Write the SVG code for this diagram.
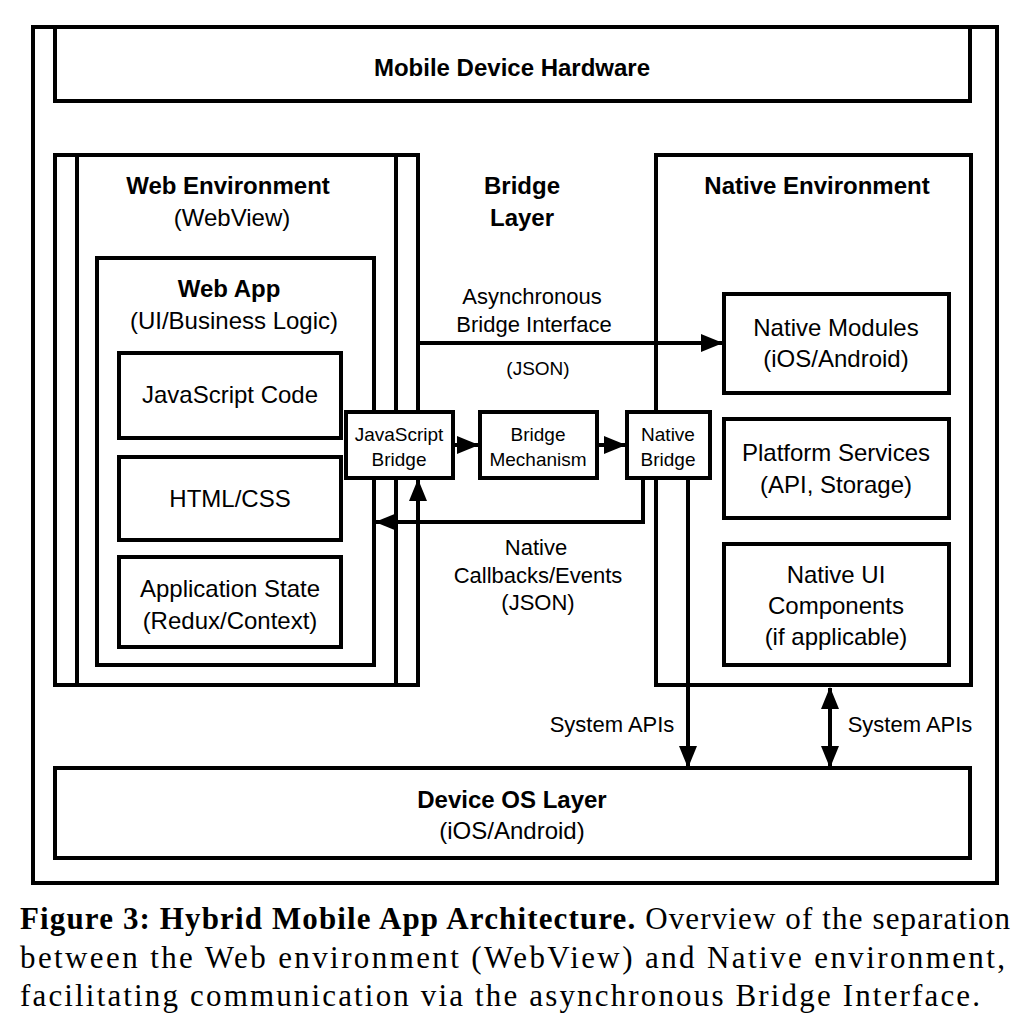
<svg xmlns="http://www.w3.org/2000/svg" width="1024" height="1024" viewBox="0 0 1024 1024">
<style>
rect,.l{fill:none;stroke:#000;stroke-width:4}
.c{stroke:#000;stroke-width:4;fill:none}
text{font-family:"Liberation Sans",Arial,sans-serif;font-size:24px;text-anchor:middle;fill:#000}
.b{font-weight:bold}
.s{font-size:19px}
.m{font-size:22px}
.cap{font-family:"Liberation Serif","Times New Roman",serif;font-size:31px;text-anchor:start}
</style>
<defs>
<marker id="a" markerWidth="24" markerHeight="20" refX="21" refY="9" orient="auto-start-reverse" markerUnits="userSpaceOnUse"><path d="M0,0 L22,9 L0,18 z" fill="#000"/></marker>
</defs>
<rect x="33" y="27" width="964" height="856"/>
<g id="hardware"><rect x="55" y="27" width="915" height="74"/><text class="b" x="512" y="76">Mobile Device Hardware</text></g>
<g id="web-env"><rect x="55" y="155" width="363" height="530"/><line class="l" x1="77" y1="155" x2="77" y2="685"/><line class="l" x1="396" y1="155" x2="396" y2="685"/>
<text class="b" x="228" y="194">Web Environment</text><text x="232" y="226">(WebView)</text></g>
<g id="web-app"><rect x="97" y="258" width="277" height="407"/><text class="b" x="229" y="297">Web App</text><text x="234" y="329">(UI/Business Logic)</text></g>
<g id="js-code"><rect x="119" y="353" width="222" height="85"/><text x="230" y="403">JavaScript Code</text></g>
<g id="html-css"><rect x="119" y="457" width="222" height="83"/><text x="230" y="507">HTML/CSS</text></g>
<g id="app-state"><rect x="119" y="557" width="222" height="90"/><text x="230" y="597">Application State</text><text x="230" y="629">(Redux/Context)</text></g>
<g id="bridge-layer"><text class="b" x="522" y="194">Bridge</text><text class="b" x="522" y="226">Layer</text></g>
<g id="native-env"><rect x="656" y="155" width="315" height="530"/><text class="b" x="817" y="194">Native Environment</text></g>
<g id="native-modules"><rect x="724" y="294" width="225" height="99"/><text x="836" y="336">Native Modules</text><text x="836" y="367">(iOS/Android)</text></g>
<g id="platform-services"><rect x="724" y="419" width="225" height="99"/><text x="836" y="461">Platform Services</text><text x="836" y="493">(API, Storage)</text></g>
<g id="native-ui"><rect x="724" y="544" width="225" height="121"/><text x="836" y="583">Native UI</text><text x="836" y="614">Components</text><text x="836" y="645">(if applicable)</text></g>
<g id="js-bridge"><rect x="346" y="412" width="107" height="66" style="fill:#fff"/><text class="s" x="399" y="441">JavaScript</text><text class="s" x="399" y="466">Bridge</text></g>
<g id="bridge-mech"><rect x="480" y="412" width="117" height="66"/><text class="s" x="538" y="441">Bridge</text><text class="s" x="538" y="466">Mechanism</text></g>
<g id="native-bridge"><rect x="627" y="412" width="83" height="66" style="fill:#fff"/><text class="s" x="668" y="441">Native</text><text class="s" x="668" y="466">Bridge</text></g>
<g id="os"><rect x="55" y="768" width="915" height="90"/><text class="b" x="512" y="808">Device OS Layer</text><text x="512" y="839">(iOS/Android)</text></g>
<g id="connectors">
<path class="c" d="M418,412 V343 H722" marker-end="url(#a)"/>
<path class="c" d="M453,445 H478" marker-end="url(#a)"/>
<path class="c" d="M597,445 H625" marker-end="url(#a)"/>
<path class="c" d="M643,478 V522 H376" marker-end="url(#a)"/>
<path class="c" d="M418,685 V480" marker-end="url(#a)"/>
<path class="c" d="M688,478 V767" marker-end="url(#a)"/>
<path class="c" d="M830,688 V767" marker-start="url(#a)" marker-end="url(#a)"/>
<text x="532" y="304" class="m">Asynchronous</text>
<text x="534" y="332" class="m">Bridge Interface</text>
<text x="538" y="375" class="s">(JSON)</text>
<text x="536" y="555" class="m">Native</text>
<text x="538" y="583" class="m">Callbacks/Events</text>
<text x="538" y="610" class="m">(JSON)</text>
<text x="612" y="732" class="m">System APIs</text>
<text x="910" y="732" class="m">System APIs</text>
</g>
<text class="cap" x="20" y="929" textLength="990"><tspan font-weight="bold">Figure 3: Hybrid Mobile App Architecture.</tspan> Overview of the separation</text>
<text class="cap" x="20" y="968" textLength="985">between the Web environment (WebView) and Native environment,</text>
<text class="cap" x="20" y="1006" textLength="960">facilitating communication via the asynchronous Bridge Interface.</text>
</svg>
